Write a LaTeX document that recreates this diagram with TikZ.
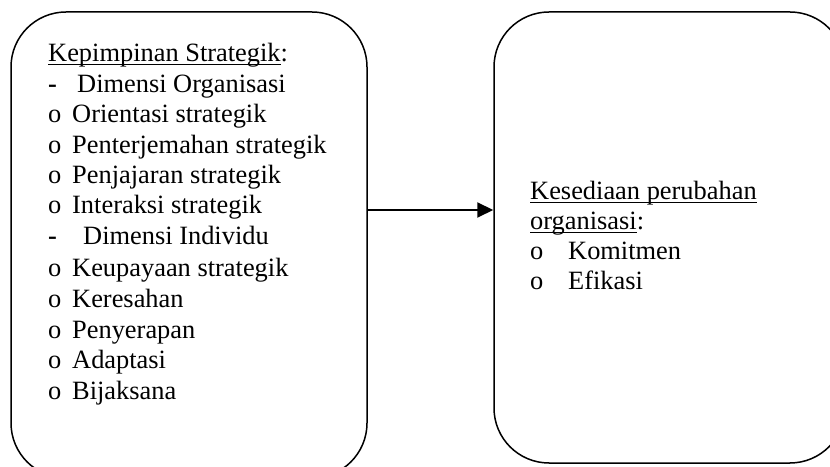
\documentclass[tikz,border=0pt]{standalone}
\usepackage{fontspec}
\setmainfont{Liberation Serif}
\usetikzlibrary{arrows.meta}
\newsavebox\ulbox
\newcommand{\ulx}[1]{\sbox\ulbox{#1}\rlap{\rule[-3pt]{\wd\ulbox}{1.4pt}}\usebox\ulbox}
\newcommand{\bul}[1]{\makebox[24pt][l]{o}#1}
\begin{document}
\begin{tikzpicture}[x=1pt,y=1pt,
  box/.style={draw,line width=1.5pt,rounded corners=55pt,inner sep=0pt},
  txt/.style={anchor=base west,inner sep=0pt,font=\fontsize{26.4}{30}\selectfont}]
\useasboundingbox (0,0) rectangle (830,466);
\clip (0,0) rectangle (830,466);
\fill[white] (0,0) rectangle (830,466);
\node[box,minimum width=356pt,minimum height=466pt] (left) at (189,221) {};
\node[box,minimum width=351pt,minimum height=451pt] (right) at (669.5,228.5) {};
\draw[line width=2pt,-{Triangle[length=16pt,width=15pt]}] ([yshift=35pt]left.east) -- ([yshift=27.5pt]right.west);
% left texts
\node[txt] (l1) at (48,404) {\ulx{Kepimpinan Strategik}:};
\node[txt] (l2) at (48,373) {\makebox[29pt][l]{\textbf{-}}Dimensi Organisasi};
\node[txt] (l3) at (48,343) {\bul{Orientasi strategik}};
\node[txt] (l4) at (48,312) {\bul{Penterjemahan strategik}};
\node[txt] (l5) at (48,282) {\bul{Penjajaran strategik}};
\node[txt] (l6) at (48,252) {\bul{Interaksi strategik}};
\node[txt] (l7) at (48,221) {\makebox[35pt][l]{\textbf{-}}Dimensi Individu};
\node[txt] (l8) at (48,189) {\bul{Keupayaan strategik}};
\node[txt] (l9) at (48,158) {\bul{Keresahan}};
\node[txt] (l10) at (48,127) {\bul{Penyerapan}};
\node[txt] (l11) at (48,97) {\bul{Adaptasi}};
\node[txt] (l12) at (48,66) {\bul{Bijaksana}};
% right texts
\node[txt] (r1) at (530,266) {\ulx{Kesediaan perubahan}};
\node[txt] (r2) at (530,236) {\ulx{organisasi}:};
\node[txt] (r3) at (530,206) {\makebox[38pt][l]{o}Komitmen};
\node[txt] (r4) at (530,176) {\makebox[38pt][l]{o}Efikasi};
\end{tikzpicture}
\end{document}
